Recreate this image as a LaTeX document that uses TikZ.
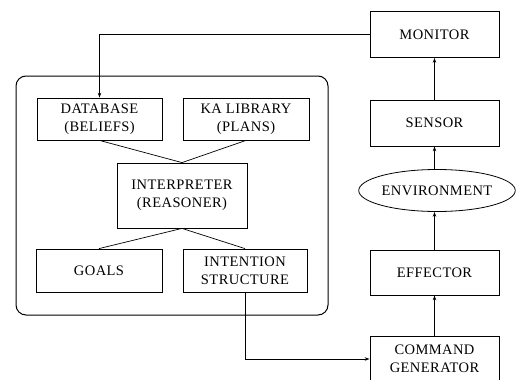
\documentclass[tikz,border=0pt]{standalone}
\usepackage{fontspec}
\setmainfont[LetterSpace=3]{Liberation Serif}
\usetikzlibrary{arrows.meta,shapes.geometric}
\begin{document}
\begin{tikzpicture}[x=1pt,y=-1pt,
  font=\fontsize{14.5}{18}\selectfont,
  box/.style={draw, line width=0.8pt, minimum width=#1, align=center, inner sep=0pt},
  box/.default=126pt,
  frame/.style={draw, line width=1pt, rounded corners=10pt, inner sep=0pt},
  link/.style={draw, line width=0.7pt},
  flow/.style={draw, line width=0.8pt, -{Stealth[length=5pt,width=3.5pt]}}]
\clip (0,0) rectangle (517,380);
\useasboundingbox (0,0) rectangle (517,380);

% agent boundary
\node[frame, minimum width=312pt, minimum height=239pt] (agent) at (172,195.5) {};

% agent internals
\node[box=125pt, minimum height=42pt] (db) at (99.5,119) {DATABASE\\(BELIEFS)};
\node[box=126pt, minimum height=42pt] (ka) at (246,119) {KA LIBRARY\\(PLANS)};
\node[box=130pt, minimum height=65pt] (interp) at (182,195.5) {INTERPRETER\\(REASONER)};
\node[box=126pt, minimum height=43pt] (goals) at (99,270.5) {GOALS};
\node[box=124pt, minimum height=43pt] (intent) at (245,270.5) {INTENTION\\STRUCTURE};

\path[link] (db.south) -- (interp.north);
\path[link] (ka.south) -- (interp.north);
\path[link] (interp.south) -- (goals.north);
\path[link] (interp.south) -- (intent.north);

% perception / action loop
\node[box=129pt, minimum height=46pt] (monitor) at (434.5,34.5) {MONITOR};
\node[box=129pt, minimum height=46pt] (sensor) at (434.5,123) {SENSOR};
\node[draw, line width=0.8pt, ellipse, minimum width=136pt, minimum height=42pt, inner sep=0pt] (env) at (437,190.5) {ENVIRONMENT};
\node[box=129pt, minimum height=45pt] (effector) at (434.5,272.5) {EFFECTOR};
\node[box=129pt, minimum height=46pt] (cmd) at (434.5,359) {COMMAND\\GENERATOR};

\path[flow] (sensor.north) -- (monitor.south);
\path[flow] (env.north -| sensor.south) -- (sensor.south);
\path[flow] (effector.north) -- (env.south -| effector.north);
\path[flow] (cmd.north) -- (effector.south);

\path[flow] (monitor.west) -| (db.north);
\path[flow] (intent.south) |- (cmd.west);
\end{tikzpicture}
\end{document}
